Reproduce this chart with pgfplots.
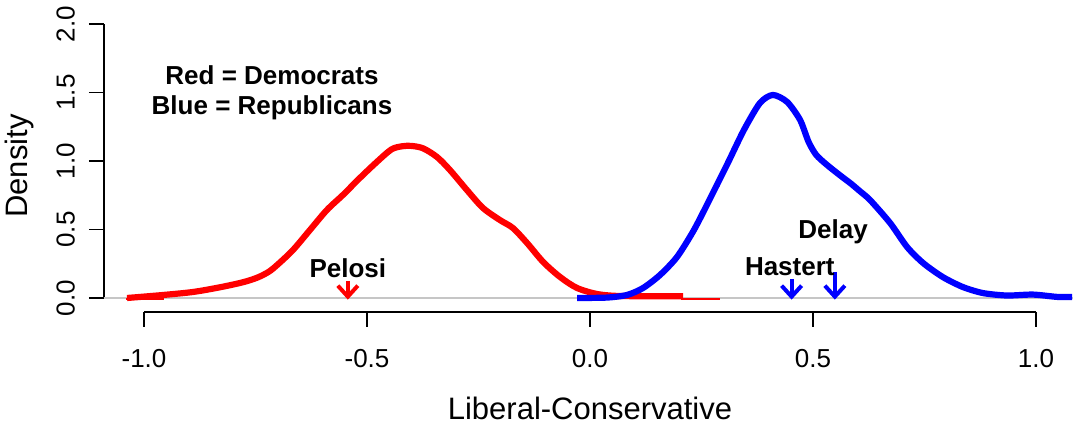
\documentclass[border=0pt]{standalone}
\usepackage{fontspec}
\setmainfont{Liberation Sans}
\usepackage{pgfplots}
\pgfplotsset{compat=1.18}
\usetikzlibrary{arrows.meta}
\begin{document}
\begin{tikzpicture}
\begin{axis}[
  at={(0,0)}, anchor=south west,
  x=223pt, y=68.5pt,
  xmin=-1.0897, xmax=1.083,
  ymin=-0.1022, ymax=2.1,
  clip=false,
  axis lines*=left,
  axis line style={draw=none},
  xtick={-1,-0.5,0,0.5,1},
  xticklabels={-1.0,-0.5,0.0,0.5,1.0},
  ytick={0,0.5,1,1.5,2},
  yticklabels={0.0,0.5,1.0,1.5,2.0},
  tick align=outside,
  major tick length=7.5pt,
  tick style={black, line width=0.8pt},
  tick label style={font=\fontsize{13}{15}\selectfont},
  xticklabel style={anchor=north, yshift=-7.5pt},
  yticklabel style={rotate=90, anchor=south, yshift=3.5pt},
]
% axis lines (R style, detached)
\addplot[black, line width=0.8pt] coordinates {(-1,-0.1022) (1,-0.1022)};
\addplot[black, line width=0.8pt] coordinates {(-1.0897,0) (-1.0897,2)};
% zero line
\addplot[gray!45, line width=0.8pt] coordinates {(-1.0897,0) (1.083,0)};
% Democrats (red)
\addplot[red, line width=1.2pt] coordinates {(-1.04,-0.008) (-0.955,-0.008)};
\addplot[red, line width=1.2pt] coordinates {(0.205,-0.006) (0.292,-0.006)};
\addplot[red, line width=3.1pt, smooth, tension=0.5] coordinates {
(-1.038,0.0) (-0.957,0.022) (-0.890,0.044) (-0.830,0.078) (-0.778,0.115)
(-0.745,0.150) (-0.720,0.192) (-0.700,0.245) (-0.666,0.350) (-0.628,0.496) (-0.590,0.642)
(-0.554,0.752) (-0.516,0.876) (-0.478,0.993) (-0.445,1.085) (-0.420,1.108) (-0.400,1.110)
(-0.374,1.092) (-0.343,1.029) (-0.314,0.934) (-0.276,0.788) (-0.240,0.657)
(-0.202,0.569) (-0.173,0.511) (-0.141,0.401) (-0.105,0.263) (-0.067,0.153)
(-0.029,0.073) (0.016,0.029) (0.061,0.015) (0.130,0.013) (0.209,0.012)
};
% Republicans (blue)
\addplot[blue, line width=3.1pt, smooth, tension=0.45] coordinates {
(-0.029,0.0) (0.038,0.003) (0.083,0.022) (0.119,0.073) (0.157,0.168)
(0.195,0.299) (0.233,0.496) (0.271,0.737) (0.309,0.985) (0.345,1.226)
(0.381,1.423) (0.410,1.482) (0.442,1.431) (0.471,1.300) (0.490,1.140)
(0.507,1.045) (0.530,0.975) (0.560,0.897) (0.585,0.835) (0.605,0.780)
(0.628,0.715) (0.673,0.547) (0.711,0.372) (0.747,0.255) (0.791,0.153)
(0.836,0.080) (0.881,0.036) (0.935,0.018) (0.993,0.025) (1.047,0.008)
(1.081,0.007)
};
% arrows
\addplot[red, line width=2pt, -{Straight Barb[length=5.5pt,width=10pt]}] coordinates {(-0.543,0.125) (-0.543,-0.012)};
\addplot[blue, line width=2pt, -{Straight Barb[length=5.5pt,width=10pt]}] coordinates {(0.452,0.135) (0.452,-0.012)};
\addplot[blue, line width=2pt, -{Straight Barb[length=5.5pt,width=10pt]}] coordinates {(0.549,0.19) (0.549,-0.012)};
% text
\node[font=\bfseries\fontsize{13}{15}\selectfont, align=center] at (axis cs:-0.713,1.496) {Red = Democrats\\Blue = Republicans};
\node[font=\bfseries\fontsize{13}{15}\selectfont] at (axis cs:-0.543,0.219) {Pelosi};
\node[font=\bfseries\fontsize{13}{15}\selectfont] at (axis cs:0.448,0.226) {Hastert};
\node[font=\bfseries\fontsize{13}{15}\selectfont] at (axis cs:0.545,0.48) {Delay};
\node[font=\fontsize{15.5}{18}\selectfont] at (axis cs:0,-0.803) {Liberal-Conservative};
\node[font=\fontsize{15.5}{18}\selectfont, rotate=90] at (axis cs:-1.280,0.9635) {Density};
\end{axis}
\pgfresetboundingbox
\path[use as bounding box] (-52pt,-57pt) rectangle (484.5pt,156pt);
\end{tikzpicture}
\end{document}
